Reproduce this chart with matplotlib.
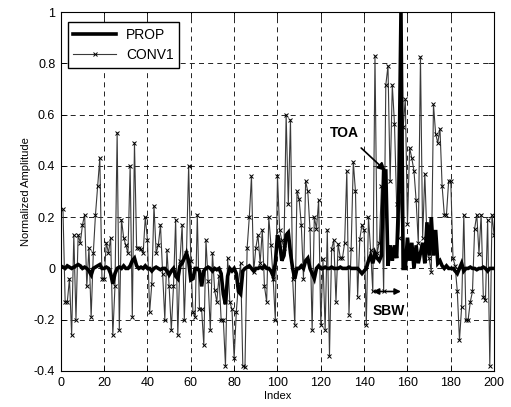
import matplotlib
matplotlib.use("Agg")
import matplotlib.pyplot as plt
import numpy as np

plt.rcParams['font.family'] = ['Liberation Sans', 'DejaVu Sans']

conv1 = [
    0.23, -0.13, -0.13, -0.04, -0.26, 0.13, -0.20, 0.13, 0.10, 0.17,
    0.21, -0.07, 0.08, -0.19, 0.06, 0.21, 0.32, 0.43, -0.04, -0.04,
    0.10, 0.06, 0.12, -0.26, -0.07, 0.53, -0.24, 0.19, 0.12, 0.09,
    0.06, 0.40, -0.19, 0.49, 0.08, 0.08, 0.075, 0.06, 0.20, 0.11,
    -0.17, -0.06, 0.245, 0.06, 0.09, 0.17, -0.02, -0.20, 0.07, -0.07,
    -0.24, -0.07, 0.19, -0.26, 0.03, 0.17, -0.20, 0.06, 0.40, 0.03,
    -0.17, -0.19, 0.21, -0.16, -0.16, -0.30, 0.11, -0.05, -0.24, 0.06,
    -0.085, -0.13, -0.03, -0.20, -0.20, -0.38, 0.04, -0.13, -0.16, -0.35,
    -0.17, -0.06, 0.02, -0.38, -0.385, 0.08, 0.20, 0.36, -0.015, 0.08,
    0.13, 0.02, 0.15, -0.07, -0.13, 0.20, 0.09, -0.04, -0.20, 0.36,
    0.15, 0.11, 0.08, 0.60, 0.25, 0.58, -0.04, -0.22, 0.30, 0.27,
    0.17, -0.04, 0.34, 0.30, 0.155, -0.24, 0.20, 0.155, 0.265, -0.22,
    0.035, -0.24, 0.15, -0.34, 0.077, 0.11, -0.13, 0.096, 0.04, 0.04,
    0.10, 0.38, -0.18, 0.077, 0.415, 0.30, -0.11, 0.115, 0.17, 0.15,
    -0.22, 0.20, 0.07, -0.09, 0.83, 0.06, 0.10, 0.32, -0.09, 0.715,
    0.79, 0.34, 0.715, 0.565, 0.25, 0.12, 0.30, 0.55, 0.66, 0.175,
    0.47, 0.43, 0.38, 0.265, 0.10, 0.825, 0.12, 0.37, 0.115, 0.04,
    -0.014, 0.64, 0.525, 0.49, 0.545, 0.32, 0.21, 0.21, 0.34, 0.34,
    0.04, 0.01, -0.09, -0.28, -0.15, 0.21, -0.20, -0.20, -0.13, -0.09,
    0.155, 0.21, 0.057, 0.21, -0.11, -0.125, 0.19, -0.38, 0.21, 0.13,
]

prop = [
    0.005, 0.0, 0.01, 0.005, 0.0, 0.005, 0.01, 0.015, 0.01, 0.0,
    0.005, 0.0, -0.01, -0.025, 0.0, 0.005, 0.01, 0.015, 0.0, 0.0,
    0.005, 0.0, -0.02, -0.06, -0.02, 0.0, 0.005, 0.0, 0.01, 0.0,
    0.0, 0.01, 0.03, 0.04, 0.01, 0.0, 0.005, 0.0, 0.01, 0.0,
    0.0, -0.01, 0.0, 0.005, 0.0, -0.005, 0.0, 0.0, -0.01, -0.025,
    -0.01, 0.0, -0.03, -0.04, 0.01, 0.02, 0.04, 0.06, 0.03, -0.045,
    -0.04, 0.0, 0.0, -0.01, -0.07, -0.01, 0.0, 0.005, 0.0, -0.01,
    0.0, -0.005, 0.0, -0.02, -0.10, -0.14, -0.03, 0.0, -0.01, 0.0,
    -0.02, -0.09, -0.10, -0.01, 0.0, 0.005, 0.01, 0.0, -0.01, 0.0,
    0.0, 0.005, 0.0, 0.01, 0.0, 0.0, -0.01, -0.03, 0.02, 0.13,
    0.10, 0.03, 0.05, 0.13, 0.14, 0.06, 0.0, -0.04, 0.0, 0.0,
    0.01, 0.0, 0.03, 0.04, 0.0, -0.02, -0.04, 0.0, 0.01, 0.0,
    0.0, 0.005, 0.0, 0.0, 0.005, 0.0, 0.0, 0.0, 0.005, 0.0,
    0.0, 0.0, 0.005, 0.0, 0.0, 0.0, 0.0, -0.01, -0.02, -0.01,
    0.0, 0.03, 0.05, 0.02, 0.06, 0.04, 0.03, 0.05, 0.38, 0.38,
    0.01, 0.09, 0.03, 0.09, 0.04, 0.30, 1.0, 0.0, 0.0, 0.12,
    0.03, 0.10, 0.0, 0.09, 0.02, 0.06, 0.10, 0.02, 0.18, 0.05,
    0.20, 0.05, 0.15, 0.02, 0.03, 0.01, 0.0, 0.01, 0.0, 0.0,
    0.0, -0.01, -0.02, 0.0, 0.02, -0.01, 0.0, 0.0, 0.005, 0.0,
    0.0, -0.005, 0.0, 0.0, 0.005, 0.0, -0.01, 0.0, 0.0, 0.0,
]

index = list(range(1, 201))
x_ticks = [0, 20, 40, 60, 80, 100, 120, 140, 160, 180, 200]
y_ticks = [-0.4, -0.2, 0, 0.2, 0.4, 0.6, 0.8, 1]
y_tick_labels = ["-0.4", "-0.2", "0", "0.2", "0.4", "0.6", "0.8", "1"]

fig = plt.figure(figsize=(5.11, 4.07), dpi=100)
ax = fig.add_axes([0.119, 0.0885, 0.848, 0.882])

ax.plot(index, conv1, color='#3a3a3a', lw=0.8, marker='x', ms=3.5,
        mec='black', mew=0.7, label='CONV1', zorder=2)
ax.plot(index, prop, color='black', lw=2.6, label='PROP', zorder=3,
        solid_joinstyle='miter')

ax.set_xlim(0, 200)
ax.set_ylim(-0.4, 1)
ax.set_xticks(x_ticks)
ax.set_yticks(y_ticks)
ax.set_yticklabels(y_tick_labels)
ax.tick_params(direction='in', top=True, right=True, labelsize=9, length=4,
               width=0.6, pad=4)
ax.grid(True, color='black', linestyle=(0, (6, 5)), lw=0.6)
for s in ax.spines.values():
    s.set_linewidth(0.8)
ax.set_xlabel('Index', fontsize=8, labelpad=2)
ax.set_ylabel('Normalized Amplitude', fontsize=8, labelpad=2)

h, l = ax.get_legend_handles_labels()
leg = ax.legend([h[1], h[0]], [l[1], l[0]], loc='upper left',
                bbox_to_anchor=(0.016, 0.971), borderaxespad=0,
                fontsize=10, fancybox=False,
                edgecolor='black', framealpha=1, handlelength=3.1,
                borderpad=0.4, labelspacing=0.45, handletextpad=0.7)
leg.get_frame().set_linewidth(1.0)

ax.annotate('TOA', xy=(150, 0.38), xytext=(131, 0.53),
            fontsize=10, fontweight='bold', ha='center', va='center',
            arrowprops=dict(arrowstyle='-|>', color='black', lw=1.2,
                            shrinkA=6, shrinkB=0, mutation_scale=12))
ax.annotate('', xy=(144, -0.09), xytext=(157, -0.09),
            arrowprops=dict(arrowstyle='<|-|>', color='black', lw=1.2,
                            shrinkA=0, shrinkB=0, mutation_scale=9))
ax.text(151.5, -0.165, 'SBW', fontsize=10, fontweight='bold',
        ha='center', va='center')

fig.savefig('out.png', dpi=100)
